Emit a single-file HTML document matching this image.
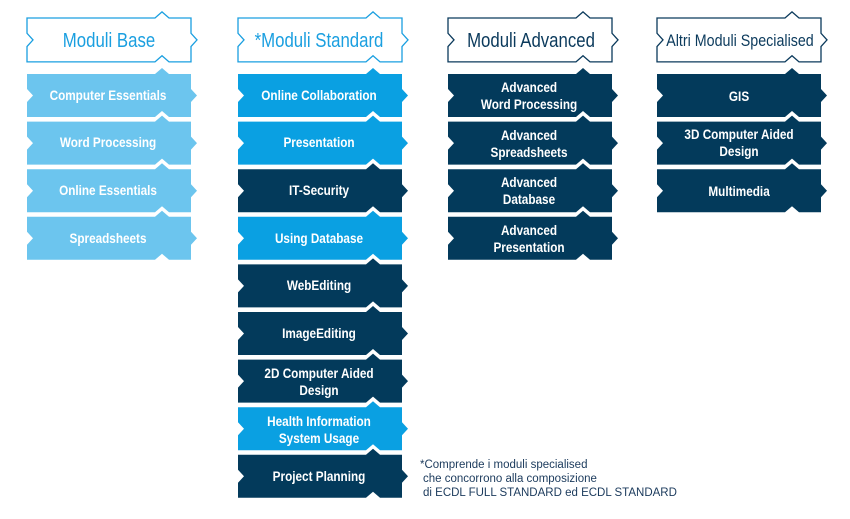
<!DOCTYPE html>
<html><head><meta charset="utf-8"><style>
html,body{margin:0;padding:0;background:#fff;width:850px;height:519px;overflow:hidden}
svg text{font-family:"Liberation Sans",sans-serif;text-anchor:middle;transform-box:fill-box;transform-origin:center;transform:scaleX(.84)}
.it{fill:#fff;font-weight:bold;font-size:14px}
.hd{font-size:20px}
svg text.fn{transform:none;text-anchor:start;font-size:11.5px;fill:#1b3a5c}
</style></head><body>
<svg width="850" height="519" viewBox="0 0 850 519" xmlns="http://www.w3.org/2000/svg">
<defs>
<path id="s" d="M0,0 H128 L135,-6 L142,0 H164 V15 L170,21.5 L164,28 V43 H142 L135,37 L128,43 H0 V28 L6,21.5 L0,15 Z"/>
</defs>
<g fill="#fff" stroke-width="1.3">
<use href="#s" transform="translate(27,18) scale(1,1.02)" stroke="#1a9fe0"/>
<use href="#s" transform="translate(238,18) scale(1,1.02)" stroke="#1a9fe0"/>
<use href="#s" transform="translate(448,18) scale(1,1.02)" stroke="#0b3a5c"/>
<use href="#s" transform="translate(657,18) scale(1,1.02)" stroke="#0b3a5c"/>
</g>
<text class="hd" x="109" y="47" fill="#1a9fe0">Moduli Base</text>
<text class="hd" x="319" y="47" fill="#1a9fe0">*Moduli Standard</text>
<text class="hd" x="531" y="47" fill="#0b3a5c">Moduli Advanced</text>
<text x="740" y="46" fill="#0b3a5c" font-size="17">Altri Moduli Specialised</text>

<g fill="#6cc5ee">
<use href="#s" transform="translate(27,74)"/>
<use href="#s" transform="translate(27,121.6)"/>
<use href="#s" transform="translate(27,169.2)"/>
<use href="#s" transform="translate(27,216.8)"/>
</g>
<text class="it" x="108" y="100">Computer Essentials</text>
<text class="it" x="108" y="147">Word Processing</text>
<text class="it" x="108" y="195">Online Essentials</text>
<text class="it" x="108" y="243">Spreadsheets</text>

<use href="#s" transform="translate(238,74)" fill="#0aa0e2"/>
<use href="#s" transform="translate(238,121.6)" fill="#0aa0e2"/>
<use href="#s" transform="translate(238,169.2)" fill="#033a5b"/>
<use href="#s" transform="translate(238,216.8)" fill="#0aa0e2"/>
<use href="#s" transform="translate(238,264.4)" fill="#033a5b"/>
<use href="#s" transform="translate(238,312)" fill="#033a5b"/>
<use href="#s" transform="translate(238,359.6)" fill="#033a5b"/>
<use href="#s" transform="translate(238,407.2)" fill="#0aa0e2"/>
<use href="#s" transform="translate(238,454.8)" fill="#033a5b"/>
<text class="it" x="319" y="100">Online Collaboration</text>
<text class="it" x="319" y="147">Presentation</text>
<text class="it" x="319" y="195">IT-Security</text>
<text class="it" x="319" y="243">Using Database</text>
<text class="it" x="319" y="290">WebEditing</text>
<text class="it" x="319" y="338">ImageEditing</text>
<text class="it" x="319" y="378">2D Computer Aided</text>
<text class="it" x="319" y="395">Design</text>
<text class="it" x="319" y="426">Health Information</text>
<text class="it" x="319" y="443">System Usage</text>
<text class="it" x="319" y="481">Project Planning</text>

<g fill="#033a5b">
<use href="#s" transform="translate(448,74)"/>
<use href="#s" transform="translate(448,121.6)"/>
<use href="#s" transform="translate(448,169.2)"/>
<use href="#s" transform="translate(448,216.8)"/>
</g>
<text class="it" x="529" y="92">Advanced</text>
<text class="it" x="529" y="109">Word Processing</text>
<text class="it" x="529" y="140">Advanced</text>
<text class="it" x="529" y="157">Spreadsheets</text>
<text class="it" x="529" y="187">Advanced</text>
<text class="it" x="529" y="204">Database</text>
<text class="it" x="529" y="235">Advanced</text>
<text class="it" x="529" y="252">Presentation</text>

<g fill="#033a5b">
<use href="#s" transform="translate(657,74)"/>
<use href="#s" transform="translate(657,121.6)"/>
<use href="#s" transform="translate(657,169.2)"/>
</g>
<text class="it" x="739" y="101">GIS</text>
<text class="it" x="739" y="139">3D Computer Aided</text>
<text class="it" x="739" y="156">Design</text>
<text class="it" x="739" y="196">Multimedia</text>

<text class="fn" x="420" y="468">*Comprende i moduli specialised</text>
<text class="fn" x="423" y="482">che concorrono alla composizione</text>
<text class="fn" x="423" y="496">di ECDL FULL STANDARD ed ECDL STANDARD</text>
</svg>
</body></html>
